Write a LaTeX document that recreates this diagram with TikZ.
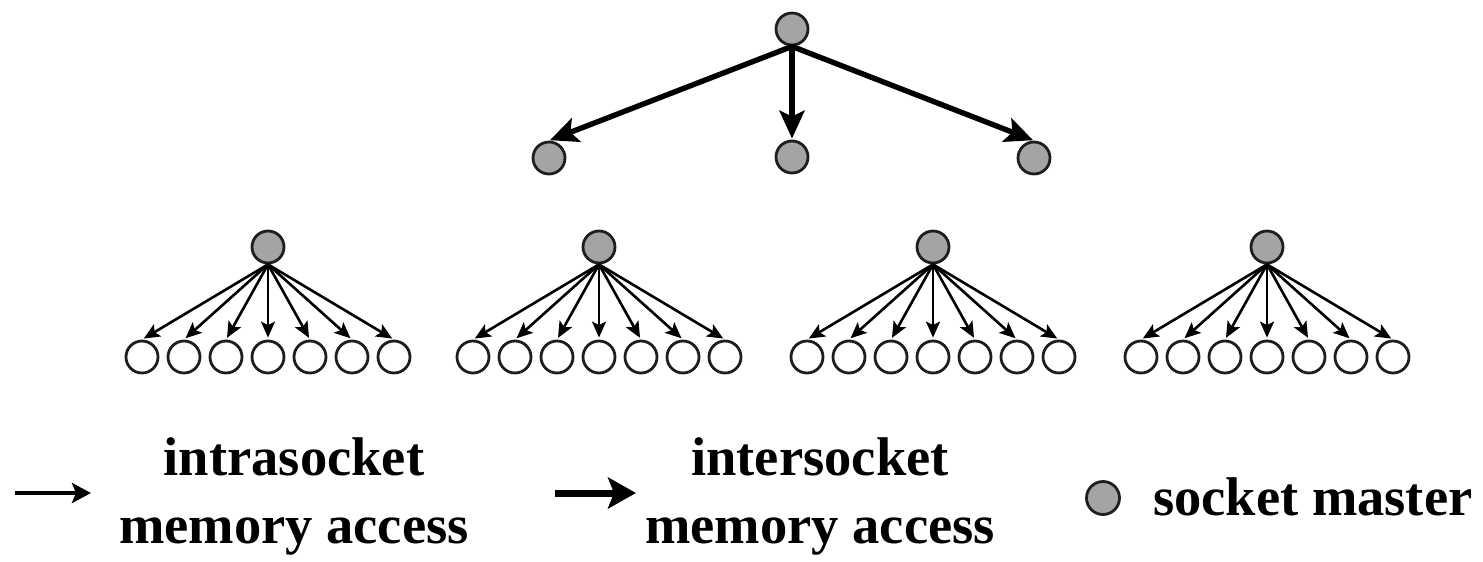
\documentclass[tikz,border=0pt]{standalone}
\usepackage{fontspec}
\setmainfont{Liberation Serif}
\usetikzlibrary{arrows.meta}
\definecolor{mastergray}{RGB}{164,164,164}
\definecolor{ringcol}{RGB}{30,30,30}
\begin{document}
\begin{tikzpicture}[x=1pt,y=-1pt,
  master/.style={circle, draw=ringcol, line width=2.8pt, fill=mastergray,
                 minimum size=32pt, inner sep=0pt},
  leaf/.style={circle, draw=ringcol, line width=2.8pt, fill=white,
               minimum size=32pt, inner sep=0pt},
  intra/.style={line width=2.6pt, shorten >=2pt,
                -{Stealth[length=16pt,width=14pt,inset=3.5pt]}},
  inter/.style={line width=5.4pt, shorten >=1pt,
                -{Stealth[length=28pt,width=25pt,inset=6pt]}},
  lbl/.style={inner sep=0pt, font=\fontsize{54.5pt}{68pt}\selectfont\bfseries}]
\useasboundingbox (0,0) rectangle (1483,562);

% socket masters connected across sockets
\node[master] (root) at (792,29) {};
\node[master] (c1) at (549,158) {};
\node[master] (c2) at (792,157) {};
\node[master] (c3) at (1034,158) {};
\foreach \c in {c1,c2,c3}
  \draw[inter] (root.south) -- (\c.north);

% one master per socket with its seven workers
\foreach \i/\mx in {1/268, 2/599, 3/933, 4/1267} {
  \node[master] (m\i) at (\mx,247) {};
  \foreach \j/\dx in {1/-126, 2/-84, 3/-42, 4/0, 5/42, 6/84, 7/126} {
    \node[leaf] (l\i-\j) at (\mx+\dx,357) {};
    \draw[intra] (m\i.south) -- (l\i-\j.north);
  }
}

% legend
\coordinate (a1s) at (15,493);
\coordinate (a1e) at (91,493);
\draw[line width=3.8pt, -{Stealth[length=19pt,width=20pt,inset=4pt]}] (a1s) -- (a1e);
\node[lbl, anchor=base] (t1a) at (294,475) {intrasocket};
\node[lbl, anchor=base] (t1b) at (294,543) {memory access};

\coordinate (a2s) at (555,493);
\coordinate (a2e) at (636,493);
\draw[line width=7pt, -{Stealth[length=28pt,width=31pt,inset=6pt]}] (a2s) -- (a2e);
\node[lbl, anchor=base] (t2a) at (820,475) {intersocket};
\node[lbl, anchor=base] (t2b) at (820,543) {memory access};

\node[master, minimum size=33pt] (lg) at (1103,498) {};
\node[lbl, anchor=base west] (t3) at (1153,515) {socket master};
\end{tikzpicture}
\end{document}
